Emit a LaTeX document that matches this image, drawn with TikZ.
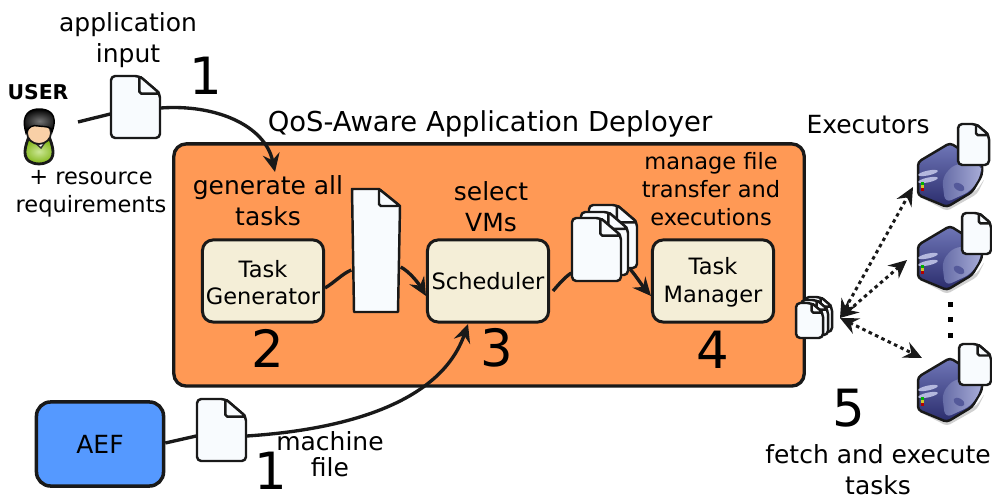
\documentclass[tikz,border=0pt]{standalone}
\usepackage{fontspec}
\setmainfont{DejaVu Sans}
\usetikzlibrary{arrows.meta,shapes.geometric}
\definecolor{deployer}{HTML}{FF9955}
\definecolor{cream}{HTML}{F4EED7}
\definecolor{aefblue}{HTML}{5599FF}
\definecolor{paper}{HTML}{F8FBFE}
\definecolor{navy}{HTML}{2A2C6C}
\definecolor{steel}{HTML}{7077B8}
\definecolor{lavender}{HTML}{B4B8DE}
\definecolor{shirt}{HTML}{8CC814}
\tikzset{
  plain/.style={font=\fontsize{7.1}{8.9}\selectfont, align=center, inner sep=0pt},
  small/.style={font=\fontsize{6.4}{7.9}\selectfont, align=center, inner sep=0pt},
  bignum/.style={font=\fontsize{14.6}{18}\selectfont, inner sep=0pt},
  compbox/.style={small, draw=black!90, line width=0.85pt, fill=cream, rounded corners=3pt,
    minimum width=1.21cm, minimum height=0.82cm},
  docline/.style={draw=black!90, line width=0.7pt, fill=paper, line join=round},
  flow/.style={line width=0.95pt, black!90, -{Stealth[length=5.2pt,width=4.8pt,inset=1.8pt]}},
  flowplain/.style={line width=0.95pt, black!90},
  fetch/.style={line width=0.85pt, black!90, dash pattern=on 1pt off 1pt,
    {Stealth[length=5.2pt,width=4.8pt,inset=1.8pt]}-{Stealth[length=5.2pt,width=4.8pt,inset=1.8pt]}},
  server/.pic={
    \fill[black!18, rounded corners=1pt] (1,36) -- (30,51) -- (60,34) -- (68,18) -- (60,30) -- (30,46) -- cycle;
    \shade[top color=steel, bottom color=navy, draw=black!90, line width=0.7pt, line join=round, rounded corners=1pt]
      (1,2) -- (33,-17) -- (65,3) -- (65,15) -- (55,32) -- (30,47) -- (1,35) -- cycle;
    \shade[left color=steel!90!black, right color=lavender!80!steel, rounded corners=2pt]
      (25,18) -- (37,4) -- (64,4) -- (64,15) -- (54,31) -- (28,43) -- cycle;
    \fill[lavender, rotate around={12:(11,13)}] (11,13) ellipse [x radius=10, y radius=2.4];
    \fill[lavender, rotate around={12:(11,20)}] (11,20) ellipse [x radius=10, y radius=2.4];
    \fill[steel!60!navy, rotate around={-30:(42,27)}] (42,27) ellipse [x radius=6, y radius=3.5];
    \fill[green!70!black] (4,22) rectangle (7,25);
    \fill[yellow!80!black] (4,25) rectangle (7,28);
    \fill[red!70!black] (4,28) rectangle (7,31);
  }
}
% name, left, top, right, bottom
\newcommand{\docicon}[5]{
  \draw[docline, rounded corners=1.2pt] (#2,#3) -- ({#2+0.58*(#4-#2)},#3) -- (#4,{#3+0.36*(#4-#2)})
    -- (#4,#5) -- (#2,#5) -- cycle;
  \draw[docline, rounded corners=0.5pt] ({#2+0.58*(#4-#2)},#3) -- ({#2+0.58*(#4-#2)},{#3+0.36*(#4-#2)})
    -- (#4,{#3+0.36*(#4-#2)}) -- cycle;
  \node[inner sep=0pt, minimum width={(#4-#2)*0.01cm}, minimum height={(#5-#3)*0.01cm}] (#1) at ({(#2+#4)/2},{(#3+#5)/2}) {};
}
\begin{document}
\begin{tikzpicture}[x=0.01cm,y=-0.01cm]
  \useasboundingbox (0,0) rectangle (992,495);

  % deployer box and AEF
  \node[draw=black!90, line width=0.95pt, fill=deployer, rounded corners=3.5pt, minimum width=6.3cm, minimum height=2.42cm, inner sep=0pt] (deployer) at (489,265) {};
  \node[plain, draw=black!90, line width=1pt, fill=aefblue, rounded corners=4pt, minimum width=1.27cm, minimum height=0.84cm] (aef) at (100,444) {AEF};

  % user
  \shade[inner color=shirt!45!white, outer color=shirt!90!black, draw=black!90, line width=0.8pt] (28,139) .. controls (24,150) and (21,163) .. (39,164) .. controls (57,163) and (54,150) .. (50,139) -- cycle;
  \fill[white, draw=black!80, line width=0.4pt] (33,141) -- (41,148) -- (46,141) -- cycle;
  \fill[orange!30!white!90!brown, draw=black!90, line width=0.5pt] (39,133) ellipse [x radius=12, y radius=11];
  \shade[inner color=black!55, outer color=black, draw=black] (26,133) .. controls (20,113) and (31,109) .. (39,109) .. controls (48,109) and (59,113) .. (52,132) .. controls (52,126) and (46,127) .. (38,126) .. controls (33,125) and (29,126) .. (26,133) -- cycle;
  \coordinate (userout) at (78,122);

  % servers
  \pic at (917,160) {server};
  \pic at (917,243) {server};
  \pic at (917,375) {server};

  % documents
  \docicon{input}{111}{76}{160}{138}
  \docicon{machine}{197}{399}{246}{461}
  \docicon{stackc}{589}{205}{637}{268}
  \docicon{stackb}{581}{212}{628}{275}
  \docicon{stacka}{572}{218}{621}{281}
  \docicon{smallc}{805}{297}{832}{332}
  \docicon{smallb}{801}{300}{828}{335}
  \docicon{smalla}{796}{303}{823}{338}
  \docicon{exec1}{958}{124}{989}{165}
  \docicon{exec2}{962}{213}{991}{254}
  \docicon{exec3}{959}{344}{991}{385}
  \draw[docline] (352,189) -- (379,189) -- (400,206) -- (398,312) -- (354,312) -- cycle;
  \draw[docline, rounded corners=0.5pt] (379,189) -- (379,206) -- (400,206) -- cycle;
  \node[inner sep=0pt, minimum width=0.48cm, minimum height=1.23cm] (tasks) at (376,250) {};

  % components
  \node[compbox] (generator) at (263,281) {\rule{0pt}{5.8pt}Task\\Generator};
  \node[compbox] (scheduler) at (488,281) {Scheduler};
  \node[compbox] (manager) at (713,281) {\rule{0pt}{5.8pt}Task\\Manager};

  % labels
  \node[plain, font=\fontsize{5.8}{7}\bfseries\selectfont] (labeluser) at (38,92) {USER};
  \node[plain] (labelinput) at (128,40) {application\\input};
  \node[small] (labelreq) at (91,194) {+ resource\\requirements};
  \node[plain, font=\fontsize{7.8}{9}\selectfont] (title) at (490,124) {QoS-Aware Application Deployer};
  \node[plain] (labelgen) at (268,201) {generate all\\tasks};
  \node[plain] (labelsel) at (491,207) {select\\VMs};
  \node[small, font=\fontsize{6.4}{8}\selectfont] (labelman) at (711,189) {manage file\\transfer and\\executions};
  \node[plain] (labelmach) at (330,454) {machine\\[-0.5mm]file};
  \node[plain] (labelexec) at (868,125) {Executors};
  \node[plain] (labelfetch) at (878,470) {fetch and execute\\tasks};
  \node[bignum] (num1a) at (206,76) {1};
  \node[bignum] (num1b) at (271,471) {1};
  \node[bignum] (num2) at (268,348) {2};
  \node[bignum] (num3) at (497,348) {3};
  \node[bignum] (num4) at (713,350) {4};
  \node[bignum] (num5) at (849,408) {5};

  % ellipsis
  \foreach \y in {305,320,336}
    \fill[black] (947.5,\y-2.5) rectangle (952.5,\y+2.5);

  % connectors
  \coordinate (gentop) at (275,172);
  \coordinate (hub) at (840,318);
  \coordinate (hubto1) at (913,187);
  \coordinate (hubto2) at (907,260);
  \coordinate (hubto3) at (922,358);
  \coordinate (schedin) at (468,324);
  \draw[flowplain] (userout) -- (input.west |- 0,114);
  \draw[flow] (input.east |- 0,108) .. controls (215,104) and (265,125) .. (gentop);
  \draw[flowplain] (generator.east |- 0,288) .. controls (335,282) and (342,274) .. (tasks.west |- 0,270);
  \draw[flow] (tasks.east |- 0,267) .. controls (410,272) and (419,284) .. (scheduler.west |- 0,296);
  \draw[flowplain] (553,291) .. controls (559,284) and (565,277) .. (stacka.west |- 0,273);
  \draw[flow] (630,269) .. controls (636,276) and (644,288) .. (manager.west |- 0,296);
  \draw[flowplain] (aef.east |- 0,443) -- (machine.west |- 0,436);
  \draw[flow] (machine.east |- 0,436) .. controls (340,430) and (440,405) .. (schedin);
  \draw[fetch] (hub) -- (hubto1);
  \draw[fetch] (hub) -- (hubto2);
  \draw[fetch] (hub) -- (hubto3);
\end{tikzpicture}
\end{document}
